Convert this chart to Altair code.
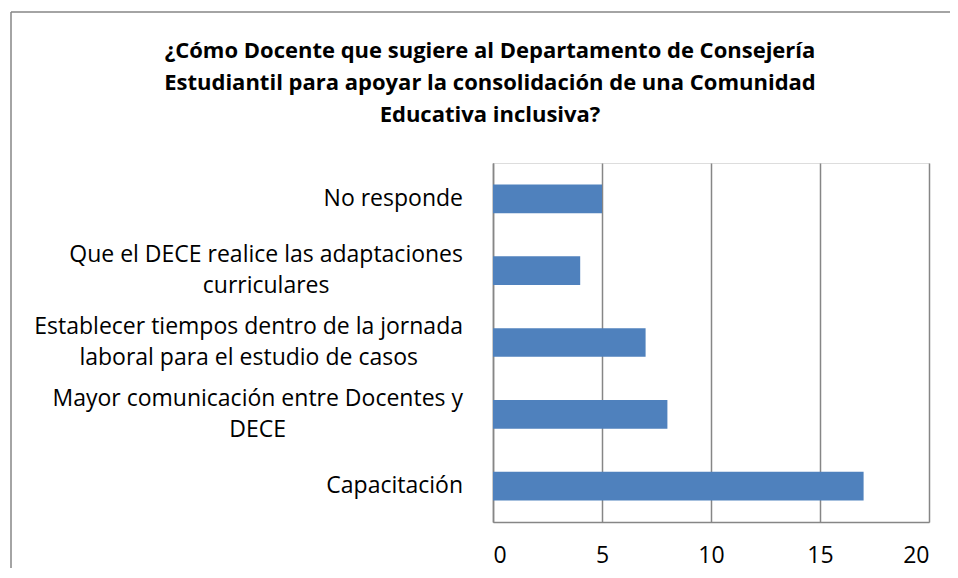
import glob
import json
import os
import struct
import subprocess

import altair as alt
import pandas as pd

# ---- data ----
categorias = [
    "No responde",
    "Que el DECE realice las adaptaciones\ncurriculares",
    "Establecer tiempos dentro de la jornada\nlaboral para el estudio de casos",
    "Mayor comunicación entre Docentes y\nDECE",
    "Capacitación",
]
valores = [5, 4, 7, 8, 17]
ticks_x = [0, 5, 10, 15, 20]
titulo = [
    "¿Cómo Docente que sugiere al Departamento de Consejería",
    "Estudiantil para apoyar la consolidación de una Comunidad",
    "Educativa inclusiva?",
]

W, H = 436, 359
GRAY = "#868686"
FONT = "Open Sans"
LABEL_SIZE = 23
LINE_H = 31
LABEL_PAD = 30


# ---- measure label widths from the installed font (for centred multi-line labels) ----
def find_font():
    try:
        p = subprocess.run(["fc-match", "-f", "%{file}", "Open Sans:style=Regular"],
                           capture_output=True, text=True, timeout=5).stdout.strip()
        if p and os.path.exists(p) and "opensans" in os.path.basename(p).lower().replace(" ", "").replace("-", ""):
            return p
    except Exception:
        pass
    cands = []
    for root in ["/usr/share/fonts", "/usr/local/share/fonts", os.path.expanduser("~/.fonts")]:
        cands += glob.glob(os.path.join(root, "**", "OpenSans*.ttf"), recursive=True)
    cands.sort(key=lambda s: (0 if "Regular" in s else 1 if "[" in s else 2, s))
    return cands[0] if cands else None


def font_measurer(path):
    data = open(path, "rb").read()
    base = 0
    if data[:4] == b"ttcf":
        base = struct.unpack(">I", data[12:16])[0]
    n = struct.unpack(">H", data[base + 4:base + 6])[0]
    tables = {}
    for i in range(n):
        rec = base + 12 + 16 * i
        tag, _, off, _ = struct.unpack(">4sIII", data[rec:rec + 16])
        tables[tag] = off
    upem = struct.unpack(">H", data[tables[b"head"] + 18:tables[b"head"] + 20])[0]
    nhm = struct.unpack(">H", data[tables[b"hhea"] + 34:tables[b"hhea"] + 36])[0]
    hm = tables[b"hmtx"]
    adv = [struct.unpack(">H", data[hm + 4 * i:hm + 4 * i + 2])[0] for i in range(nhm)]
    cm = tables[b"cmap"]
    nsub = struct.unpack(">H", data[cm + 2:cm + 4])[0]
    s4 = s12 = None
    for i in range(nsub):
        _, _, so = struct.unpack(">HHI", data[cm + 4 + 8 * i:cm + 12 + 8 * i])
        fmt = struct.unpack(">H", data[cm + so:cm + so + 2])[0]
        if fmt == 12 and s12 is None:
            s12 = cm + so
        elif fmt == 4 and s4 is None:
            s4 = cm + so

    def glyph(cp):
        if s12 is not None:
            ng = struct.unpack(">I", data[s12 + 12:s12 + 16])[0]
            for g in range(ng):
                a, b, sg = struct.unpack(">III", data[s12 + 16 + 12 * g:s12 + 28 + 12 * g])
                if a <= cp <= b:
                    return sg + cp - a
            return 0
        seg2 = struct.unpack(">H", data[s4 + 6:s4 + 8])[0]
        seg = seg2 // 2
        ends = s4 + 14
        starts = ends + seg2 + 2
        deltas = starts + seg2
        ros = deltas + seg2
        for i in range(seg):
            e = struct.unpack(">H", data[ends + 2 * i:ends + 2 * i + 2])[0]
            if cp <= e:
                s = struct.unpack(">H", data[starts + 2 * i:starts + 2 * i + 2])[0]
                if cp < s:
                    return 0
                d = struct.unpack(">h", data[deltas + 2 * i:deltas + 2 * i + 2])[0]
                ro = struct.unpack(">H", data[ros + 2 * i:ros + 2 * i + 2])[0]
                if ro == 0:
                    return (cp + d) & 0xFFFF
                addr = ros + 2 * i + ro + 2 * (cp - s)
                g = struct.unpack(">H", data[addr:addr + 2])[0]
                return (g + d) & 0xFFFF if g else 0
        return 0

    def width(text, size):
        return sum(adv[min(glyph(ord(c)), nhm - 1)] for c in text) * size / upem

    return width


try:
    _measure = font_measurer(find_font())
    anchos = [max(_measure(l, LABEL_SIZE) for l in c.split("\n")) for c in categorias]
except Exception:
    anchos = None

df = pd.DataFrame({"categoria": categorias, "valor": valores})

y_enc_axis = dict(
    title=None,
    ticks=False,
    domainColor=GRAY,
    domainWidth=1.5,
)
if anchos is None:
    y_enc_axis.update(
        labelExpr="split(datum.label, '\\n')",
        labelFont=FONT,
        labelFontSize=LABEL_SIZE,
        labelLineHeight=LINE_H,
        labelPadding=LABEL_PAD,
        labelColor="black",
        labelLimit=0,
        labelOffset={
            "condition": {"test": "length(split(datum.value, '\\n')) > 1", "value": -LINE_H / 2},
            "value": 0,
        },
    )
else:
    y_enc_axis.update(labels=False)

bars = alt.Chart(df).mark_bar(color="#4F81BD").encode(
    y=alt.Y(
        "categoria:N",
        sort=categorias,
        scale=alt.Scale(paddingInner=0.6, paddingOuter=0.3),
        axis=alt.Axis(**y_enc_axis),
    ),
    x=alt.X(
        "valor:Q",
        scale=alt.Scale(domain=[0, 20]),
        axis=alt.Axis(
            values=ticks_x,
            title=None,
            grid=True,
            gridColor=GRAY,
            gridWidth=1.5,
            ticks=False,
            domainColor=GRAY,
            domainWidth=1.5,
            labelFont=FONT,
            labelFontSize=LABEL_SIZE,
            labelColor="black",
            labelPadding=22,
        ),
    ),
)

layers = [bars]

if anchos is not None:
    df_lab = pd.DataFrame({"categoria": categorias, "ancho": anchos})
    base_lab = alt.Chart(df_lab).transform_calculate(
        lab_x=f"-({LABEL_PAD} + datum.ancho / 2) * 20 / {W}",
        nlin="length(split(datum.categoria, '\\n'))",
    )
    for cond, shift in [("datum.nlin == 1", 0), ("datum.nlin > 1", -LINE_H / 2)]:
        layers.append(
            base_lab.transform_filter(cond)
            .mark_text(
                font=FONT,
                fontSize=LABEL_SIZE,
                color="black",
                align="center",
                baseline="middle",
                lineBreak="\n",
                lineHeight=LINE_H,
                dy=shift,
            )
            .encode(
                x=alt.X("lab_x:Q", scale=alt.Scale(domain=[0, 20]), title=None),
                y=alt.Y("categoria:N", sort=categorias, title=None),
                text="categoria:N",
            )
        )

one = pd.DataFrame({"a": [0]})
frame_left = alt.Chart(one).mark_rule(color=GRAY, strokeWidth=1.5).encode(
    x=alt.value(-482), y=alt.value(-151), y2=alt.value(H + 80)
)
frame_top = alt.Chart(one).mark_rule(color=GRAY, strokeWidth=1.5).encode(
    x=alt.value(-482), x2=alt.value(W + 60), y=alt.value(-151)
)
title_text = alt.Chart(one).mark_text(
    font=FONT,
    fontSize=22,
    fontWeight="bold",
    color="black",
    align="center",
    baseline="middle",
    lineHeight=32,
).encode(
    x=alt.value(-3),
    y=alt.value(-112),
    text=alt.value(titulo),
)

chart = (
    alt.layer(*layers, frame_left, frame_top, title_text)
    .properties(
        width=W,
        height=H,
        autosize=alt.AutoSizeParams(type="none"),
        padding={"left": 485, "top": 155, "right": 21, "bottom": 46},
    )
    .configure_view(stroke="transparent")
    .configure(background="white")
)

chart.save("out.html", embed_options={"renderer": "svg", "actions": False})
